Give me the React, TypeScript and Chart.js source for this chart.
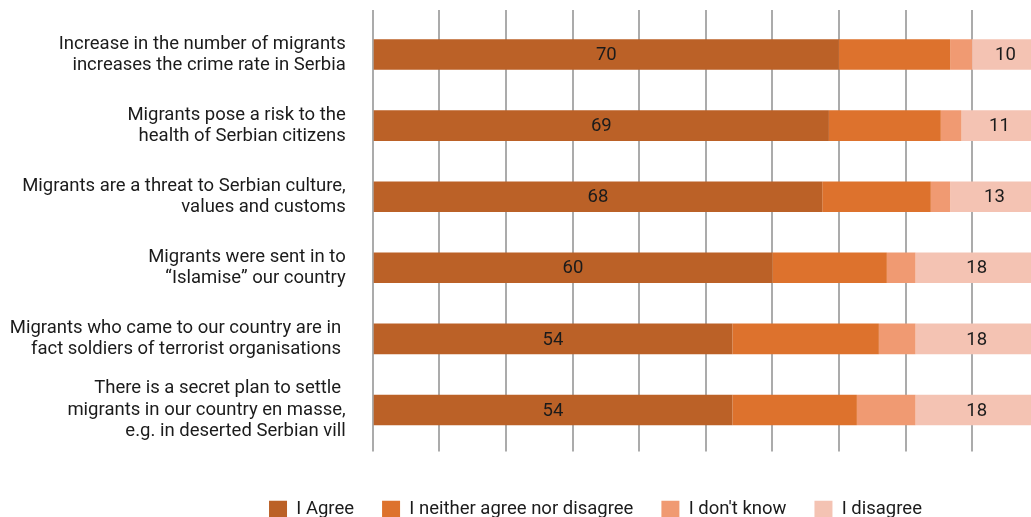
import React, { useEffect, useRef } from "react";
import { Chart, registerables } from "chart.js";

Chart.register(...registerables);

const categories: string[][] = [
  ["Increase in the number of migrants", "increases the crime rate in Serbia"],
  ["Migrants pose a risk to the", "health of Serbian citizens"],
  ["Migrants are a threat to Serbian culture,", "values and customs"],
  ["Migrants were sent in to", "\u201CIslamise\u201D our country"],
  ["Migrants who came to our country are in ", "fact soldiers of terrorist organisations "],
  ["There is a secret plan to settle ", "migrants in our country en masse,", "e.g. in deserted Serbian vill"],
];

const seriesNames = ["I Agree", "I neither agree nor disagree", "I don't know", "I disagree"];
const seriesColors = ["#BB6127", "#DD722D", "#F09A72", "#F4C3B3"];

const agree = [70, 68.5, 67.5, 60, 54, 54];
const neither = [16.7, 16.8, 16.3, 17.2, 22.0, 18.7];
const dontKnow = [3.3, 3.1, 2.9, 4.3, 5.5, 8.8];
const disagree = [10, 11.4, 13.3, 18.4, 18.4, 18.4];

const xMin = 0;
const xMax = 100;
const xStep = 10;

const labelledSeries = [0, 3];
const textColor = "#1b1b1b";

const valueLabels = {
  id: "valueLabels",
  afterDatasetsDraw(chart: any) {
    const ctx = chart.ctx;
    ctx.save();
    ctx.font = "18.5px Roboto";
    ctx.fillStyle = textColor;
    ctx.textAlign = "center";
    ctx.textBaseline = "middle";
    labelledSeries.forEach((di) => {
      const meta = chart.getDatasetMeta(di);
      meta.data.forEach((el: any, i: number) => {
        const v = chart.data.datasets[di].data[i] as number;
        const p = el.getProps(["x", "y", "base"], true);
        ctx.fillText(String(Math.round(v)), (p.x + p.base) / 2, p.y + 1);
      });
    });
    ctx.restore();
  },
};

export default function App() {
  const ref = useRef<HTMLCanvasElement | null>(null);

  useEffect(() => {
    if (!ref.current) return;
    const values = [agree, neither, dontKnow, disagree];
    const gridColor = "#ABABAB";
    const chart = new Chart(ref.current, {
      type: "bar",
      data: {
        labels: categories as any,
        datasets: seriesNames.map((name, i) => ({
          label: name,
          data: values[i],
          backgroundColor: seriesColors[i],
          borderWidth: 0,
          categoryPercentage: 1,
          barPercentage: 0.43,
        })),
      },
      options: {
        indexAxis: "y",
        responsive: false,
        animation: false,
        layout: { padding: { top: 2, left: 0, right: 0, bottom: 0 } },
        plugins: {
          tooltip: { enabled: false },
          legend: {
            position: "bottom",
            labels: {
              boxWidth: 18,
              boxHeight: 18,
              padding: 28,
              color: textColor,
              font: { family: "Roboto", size: 18.5 },
            },
          },
        },
        scales: {
          x: {
            type: "linear",
            stacked: true,
            position: "bottom",
            min: xMin,
            max: xMax,
            ticks: { display: false, stepSize: xStep },
            grid: { color: gridColor, lineWidth: 2, drawTicks: true, tickLength: 6 },
            border: { display: false },
            afterFit: (s: any) => {
              s.height = 27;
            },
          },
          x2: {
            type: "linear",
            position: "top",
            min: xMin,
            max: xMax,
            ticks: { display: false, stepSize: xStep },
            grid: { color: gridColor, lineWidth: 2, drawOnChartArea: false, drawTicks: true, tickLength: 9 },
            border: { display: false },
          },
          y: {
            type: "category",
            stacked: true,
            position: "left",
            ticks: {
              color: textColor,
              padding: 27,
              autoSkip: false,
              font: { family: "Roboto", size: 18.5, lineHeight: 1.14 },
            },
            grid: { display: false, drawTicks: false },
            border: { display: false },
            afterFit: (s: any) => {
              s.width = 364.7;
              s.paddingTop = 0;
              s.paddingBottom = 0;
            },
          },
          yR: {
            type: "category",
            position: "right",
            ticks: { display: false },
            grid: { display: false, drawTicks: false },
            border: { display: false },
            afterFit: (s: any) => {
              s.width = 144.3;
              s.paddingTop = 0;
              s.paddingBottom = 0;
            },
          },
        },
      } as any,
      plugins: [valueLabels],
    });
    return () => chart.destroy();
  }, []);

  return (
    <div style={{ position: "absolute", left: 8, top: 8, width: 1023, height: 509, overflow: "hidden" }}>
      <canvas ref={ref} width={1175} height={521} style={{ display: "block" }} />
    </div>
  );
}
